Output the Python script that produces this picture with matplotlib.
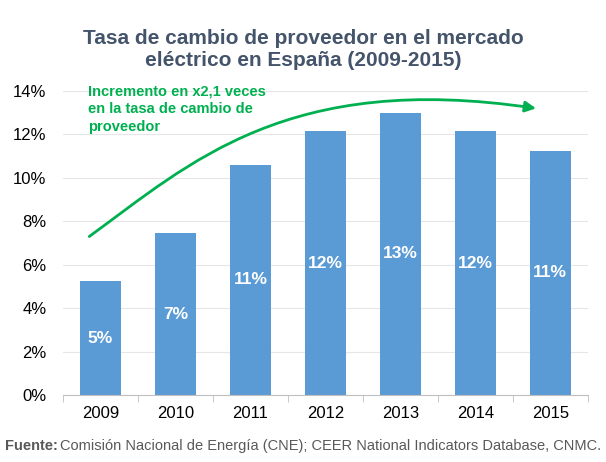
import numpy as np
import matplotlib.pyplot as plt
from matplotlib.path import Path
from matplotlib.patches import FancyArrowPatch

plt.rcParams['font.family'] = ['Liberation Sans', 'DejaVu Sans']

years = ["2009", "2010", "2011", "2012", "2013", "2014", "2015"]
rates = [5.25, 7.45, 10.6, 12.15, 13.0, 12.15, 11.25]
labels = ["5%", "7%", "11%", "12%", "13%", "12%", "11%"]
y_ticks = [0, 2, 4, 6, 8, 10, 12, 14]

BAR = "#5b9bd5"
GREEN = "#00b050"
TITLE = "#44546a"

fig = plt.figure(figsize=(6.06, 4.62), dpi=100)
ax = fig.add_axes([0.104, 0.145, 0.866, 0.658])

x = np.arange(len(years))
ax.bar(x, rates, width=0.55, color=BAR, zorder=3)
for xi, v, lab in zip(x, rates, labels):
    ax.text(xi, v / 2, lab, ha="center", va="center", color="white",
            fontsize=12.5, fontweight="bold", zorder=4)

ax.set_xlim(-0.5, len(years) - 0.5)
ax.set_ylim(0, 14)
ax.set_yticks(y_ticks)
ax.set_yticklabels([f"{t}%" for t in y_ticks], fontsize=12)
ax.set_xticks(x)
ax.set_xticklabels(years, fontsize=12)
ax.set_xticks(np.arange(-0.5, len(years)), minor=True)
ax.tick_params(axis="x", which="major", length=0, pad=8)
ax.tick_params(axis="x", which="minor", length=5, color="#bfbfbf")
ax.tick_params(axis="y", length=0, pad=12)
ax.grid(axis="y", color="#e6e6e6", linewidth=0.8, zorder=0)
for s in ["left", "right", "top"]:
    ax.spines[s].set_visible(False)
ax.spines["bottom"].set_color("#bfbfbf")
ax.spines["bottom"].set_zorder(5)

# curved arrow
verts = [(-0.15, 7.3), (1.2, 10.7), (2.5, 14.9), (5.81, 13.2)]
path = Path(verts, [Path.MOVETO, Path.CURVE4, Path.CURVE4, Path.CURVE4])
arrow = FancyArrowPatch(path=path, arrowstyle="-|>", mutation_scale=16,
                        color=GREEN, linewidth=2, zorder=6)
ax.add_patch(arrow)

ax.text(-0.17, 14.3, "Incremento en x2,1 veces\nen la tasa de cambio de\nproveedor",
        ha="left", va="top", color=GREEN, fontsize=10.5, fontweight="bold",
        linespacing=1.35, zorder=7)

fig.text(0.5, 0.892, "Tasa de cambio de proveedor en el mercado\neléctrico en España (2009-2015)",
         ha="center", va="center", fontsize=15, fontweight="bold", color=TITLE,
         linespacing=1.2)

t1 = fig.text(0.008, 0.035, "Fuente:", ha="left", va="center", fontsize=10.5,
              fontweight="bold", color="#595959")
fig.canvas.draw()
bb = t1.get_window_extent()
fig.text(bb.x1 / fig.bbox.width + 0.004, 0.035,
         "Comisión Nacional de Energía (CNE); CEER National Indicators Database, CNMC.",
         ha="left", va="center", fontsize=10.5, color="#595959")

fig.savefig("out.png", dpi=100)
